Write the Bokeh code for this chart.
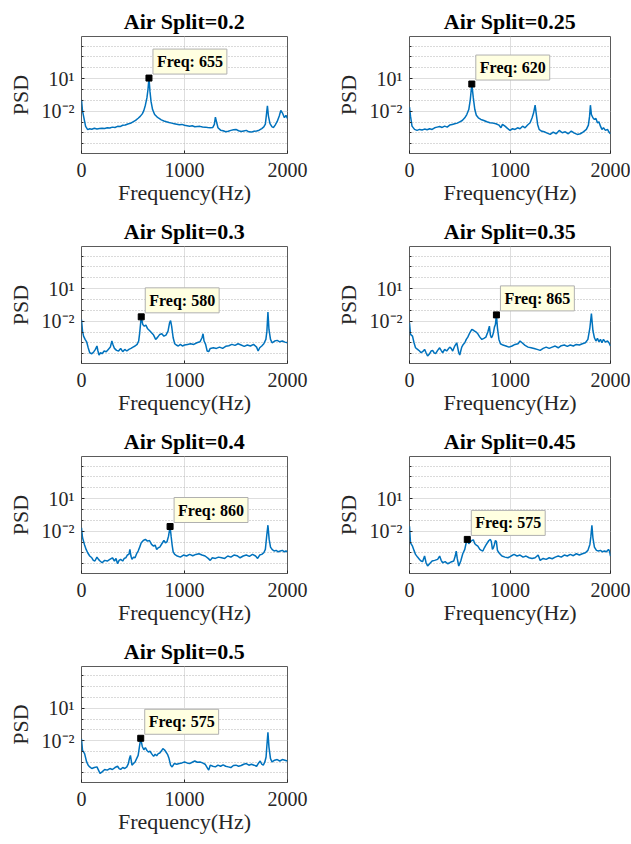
from bokeh.plotting import figure
from bokeh.layouts import gridplot
from bokeh.models import Range1d, FixedTicker, CustomJSTickFormatter, Label
from bokeh.embed import file_html
from bokeh.resources import INLINE

titles = ["Air Split=0.2", "Air Split=0.25", "Air Split=0.3", "Air Split=0.35",
          "Air Split=0.4", "Air Split=0.45", "Air Split=0.5"]
peak_freqs = [655, 620, 580, 865, 860, 575, 575]

x_ticks = [0, 1000, 2000]
y_major_ticks = [1e-2, 1e1]
y_minor_ticks = [1e-5, 1e-4, 1e-3, 1e-1, 1e0, 1e2, 1e3, 1e4]

# log10(PSD)
f_02 = [0, 10, 20, 40, 60, 80, 100, 125, 150, 175, 200, 225, 250, 275, 300, 325, 350, 375, 400, 425, 450, 475, 500,
        525, 550, 570, 590, 605, 620, 635, 645, 655, 665, 675, 690, 710, 730, 750, 775, 800, 825, 850, 875, 900, 925,
        950, 975, 1000, 1025, 1050, 1075, 1100, 1125, 1150, 1175, 1200, 1225, 1250, 1275, 1290, 1300, 1310, 1325,
        1350, 1375, 1400, 1425, 1450, 1475, 1500, 1525, 1550, 1575, 1600, 1625, 1650, 1675, 1700, 1725, 1750, 1770,
        1785, 1795, 1805, 1815, 1830, 1850, 1865, 1880, 1900, 1920, 1935, 1950, 1970, 1985, 2000]
lg_02 = [-0.96, -2.0, -2.46, -3.4, -3.7, -3.62, -3.66, -3.58, -3.64, -3.6, -3.57, -3.6, -3.53, -3.55, -3.47,
         -3.5, -3.4, -3.42, -3.3, -3.28, -3.18, -3.12, -2.98, -2.85, -2.65, -2.48, -2.25, -1.95, -1.45, -0.78, -0.05,
         1.05, -0.2, -1.1, -1.85, -2.3, -2.5, -2.65, -2.8, -2.9, -2.98, -3.05, -3.1, -3.15, -3.2, -3.25, -3.22,
         -3.3, -3.34, -3.38, -3.35, -3.44, -3.42, -3.4, -3.46, -3.47, -3.5, -3.52, -3.5, -3.22, -2.55, -2.95, -3.53,
         -3.75, -3.8, -3.9, -3.85, -3.77, -3.72, -3.68, -3.8, -3.88, -3.82, -3.77, -3.9, -3.93, -3.85, -3.83, -3.75,
         -3.6, -3.45, -3.2, -2.35, -1.5, -2.45, -3.15, -3.45, -3.5, -3.28, -2.95, -2.45, -1.94, -2.15, -2.6, -2.38, -2.67]

f_025 = [0, 10, 25, 50, 75, 100, 125, 150, 175, 200, 225, 250, 275, 300, 325, 350, 375, 400, 425, 450, 475, 500,
         525, 550, 570, 590, 605, 620, 635, 650, 665, 685, 710, 740, 770, 800, 830, 860, 890, 910, 925, 950, 975,
         1000, 1025, 1050, 1075, 1100, 1125, 1150, 1175, 1200, 1220, 1235, 1250, 1262, 1275, 1290, 1310, 1340, 1370,
         1400, 1430, 1460, 1490, 1520, 1550, 1580, 1610, 1640, 1670, 1700, 1730, 1760, 1780, 1792, 1800, 1810, 1825,
         1840, 1855, 1870, 1885, 1900, 1915, 1930, 1950, 1970, 1985, 2000]
lg_025 = [-1.63, -2.46, -3.38, -3.68, -3.77, -3.68, -3.74, -3.65, -3.71, -3.62, -3.68, -3.53, -3.47, -3.41, -3.5,
          -3.38, -3.47, -3.28, -3.22, -3.16, -3.1, -2.98, -2.86, -2.61, -2.31, -1.85, -0.93, 0.5, -0.78, -1.85,
          -2.37, -2.61, -2.76, -2.86, -2.98, -3.07, -3.1, -3.16, -3.28, -3.53, -3.22, -3.38, -3.59, -3.77, -3.62,
          -3.68, -3.53, -3.62, -3.38, -3.53, -3.28, -3.07, -2.61, -2.15, -1.45, -2.31, -3.22, -3.68, -3.83, -3.9,
          -4.02, -4.14, -3.93, -4.08, -3.77, -3.99, -3.9, -4.08, -3.83, -4.02, -4.14, -4.08, -3.9, -3.68, -3.28,
          -2.46, -1.45, -2.31, -2.61, -2.76, -2.67, -3.07, -2.98, -3.38, -3.68, -3.53, -3.77, -3.68, -3.93, -4.08]

f_03 = [0, 10, 20, 35, 50, 65, 80, 100, 120, 135, 150, 160, 170, 185, 200, 220, 240, 260, 280, 295, 305, 320, 340,
        360, 380, 400, 420, 440, 460, 480, 500, 520, 540, 555, 565, 580, 595, 610, 625, 640, 660, 680, 700, 720, 740,
        760, 780, 800, 820, 840, 855, 865, 875, 890, 905, 920, 940, 960, 980, 1000, 1030, 1060, 1090, 1120, 1150,
        1170, 1180, 1190, 1205, 1220, 1235, 1250, 1280, 1310, 1340, 1370, 1400, 1430, 1460, 1490, 1520, 1550, 1580,
        1610, 1640, 1670, 1700, 1715, 1730, 1750, 1770, 1790, 1800, 1810, 1820, 1835, 1850, 1875, 1900, 1925, 1950,
        1975, 2000]
lg_03 = [-1.85, -2.92, -3.38, -3.68, -3.9, -4.45, -4.91, -5.0, -4.81, -4.6, -4.29, -4.75, -5.12, -4.91, -5.0,
         -4.75, -4.81, -4.6, -4.39, -3.83, -4.14, -4.51, -4.69, -4.75, -4.51, -4.81, -4.6, -4.75, -4.6, -4.51,
         -4.39, -4.29, -4.14, -3.83, -3.07, -1.6, -2.31, -2.46, -2.37, -2.67, -2.86, -3.07, -3.28, -3.68, -3.47,
         -3.22, -3.16, -3.38, -3.28, -2.92, -2.15, -1.94, -2.46, -3.53, -4.08, -4.2, -4.29, -4.14, -4.29, -4.2,
         -4.14, -4.08, -4.14, -3.99, -3.9, -3.53, -3.16, -3.83, -4.14, -4.75, -4.81, -4.51, -4.45, -4.51, -4.39,
         -4.51, -4.32, -4.26, -4.14, -4.23, -4.08, -4.2, -4.32, -4.2, -4.29, -4.14, -4.39, -4.75, -4.45, -4.29,
         -4.08, -3.68, -2.92, -1.17, -2.76, -3.68, -3.99, -3.83, -3.77, -3.9, -3.83, -3.93, -3.99]

f_035 = [0, 10, 30, 45, 60, 80, 100, 115, 130, 150, 165, 180, 200, 215, 230, 245, 260, 280, 300, 315, 330, 350,
         370, 400, 415, 430, 450, 470, 480, 490, 500, 510, 520, 535, 550, 565, 580, 600, 620, 640, 660, 680, 700,
         720, 740, 760, 780, 795, 805, 815, 825, 835, 845, 855, 865, 875, 890, 905, 930, 960, 990, 1020, 1050, 1080,
         1100, 1120, 1150, 1180, 1210, 1240, 1270, 1300, 1330, 1360, 1390, 1420, 1450, 1480, 1510, 1540, 1570, 1600,
         1630, 1660, 1690, 1720, 1750, 1775, 1795, 1810, 1825, 1840, 1855, 1870, 1885, 1900, 1915, 1930, 1950, 1970,
         1985, 2000]
lg_035 = [-2.15, -3.22, -3.38, -3.99, -4.45, -4.6, -4.75, -4.91, -4.81, -4.6, -4.91, -5.21, -5.0, -4.75, -4.69,
          -4.91, -5.0, -4.69, -4.45, -4.69, -4.91, -4.6, -4.75, -4.39, -4.51, -4.75, -4.29, -3.99, -4.45, -4.91,
          -5.12, -4.75, -4.39, -4.14, -3.99, -3.68, -3.47, -3.07, -2.76, -2.86, -2.98, -3.16, -3.47, -3.68, -3.59,
          -3.47, -2.98, -2.46, -3.28, -3.53, -3.38, -3.07, -2.55, -2.31, -1.42, -2.61, -3.68, -4.08, -4.2, -4.29,
          -4.39, -4.29, -4.14, -4.08, -3.83, -3.99, -4.23, -4.39, -4.45, -4.51, -4.6, -4.69, -4.51, -4.39, -4.51,
          -4.39, -4.29, -4.45, -4.26, -4.2, -4.32, -4.2, -4.29, -4.14, -4.2, -4.08, -3.99, -3.68, -2.61, -1.3,
          -2.86, -3.53, -3.83, -3.59, -3.9, -3.68, -3.99, -3.68, -3.93, -3.83, -3.99, -4.29]

f_04 = [0, 10, 30, 45, 60, 80, 100, 115, 130, 150, 165, 180, 200, 225, 250, 275, 300, 320, 335, 350, 365, 380, 400,
        415, 430, 445, 460, 470, 480, 490, 505, 520, 535, 550, 565, 580, 600, 620, 640, 660, 680, 700, 715, 730, 745,
        760, 780, 800, 815, 830, 845, 860, 870, 880, 890, 905, 930, 960, 990, 1020, 1050, 1080, 1110, 1140, 1170,
        1200, 1230, 1250, 1270, 1300, 1330, 1360, 1390, 1420, 1450, 1480, 1510, 1540, 1570, 1600, 1630, 1660, 1690,
        1710, 1730, 1750, 1770, 1785, 1798, 1810, 1822, 1835, 1850, 1870, 1890, 1910, 1930, 1950, 1970, 1985, 2000]
lg_04 = [-1.69, -2.61, -3.28, -3.68, -3.99, -4.29, -4.45, -4.69, -4.75, -4.39, -4.6, -4.75, -4.91, -4.69, -4.75,
         -4.6, -4.45, -4.75, -4.51, -5.0, -4.69, -4.6, -4.75, -4.51, -4.45, -4.2, -4.14, -3.68, -4.29, -4.6, -4.39,
         -4.45, -4.08, -3.83, -3.47, -3.07, -2.86, -2.76, -2.92, -2.86, -3.22, -3.38, -3.28, -3.68, -3.53, -3.47,
         -3.16, -2.86, -3.07, -2.98, -2.46, -1.57, -2.46, -3.28, -3.9, -4.14, -4.29, -4.39, -4.2, -4.29, -4.14,
         -4.26, -4.14, -4.08, -4.2, -4.29, -4.51, -4.69, -4.45, -4.51, -4.39, -4.45, -4.51, -4.29, -4.39, -4.2,
         -4.26, -4.45, -4.29, -4.2, -4.32, -4.14, -4.29, -4.51, -4.2, -4.14, -3.99, -3.68, -2.46, -1.45, -2.76,
         -3.47, -3.68, -3.83, -3.77, -3.9, -3.83, -3.77, -3.9, -3.83, -3.9]

f_045 = [0, 10, 30, 45, 60, 80, 100, 115, 130, 150, 165, 180, 200, 225, 250, 280, 300, 315, 330, 355, 380, 400,
         420, 440, 455, 465, 475, 490, 510, 530, 550, 562, 575, 590, 605, 620, 635, 650, 665, 680, 700, 715, 730,
         745, 760, 775, 790, 805, 815, 825, 835, 845, 855, 865, 875, 890, 905, 920, 950, 980, 1010, 1040, 1070, 1100,
         1130, 1160, 1190, 1220, 1250, 1280, 1300, 1330, 1360, 1390, 1420, 1450, 1480, 1510, 1540, 1570, 1600, 1630,
         1660, 1690, 1720, 1750, 1775, 1795, 1805, 1815, 1825, 1840, 1860, 1880, 1900, 1920, 1940, 1960, 1980, 1990,
         2000]
lg_045 = [-1.54, -3.07, -3.38, -3.77, -4.14, -4.39, -4.6, -4.75, -4.81, -4.29, -4.91, -5.21, -5.0, -4.75, -4.69,
          -4.6, -4.29, -4.69, -4.91, -4.81, -5.0, -4.91, -4.81, -4.75, -4.29, -3.83, -4.51, -5.21, -4.75, -4.08,
          -3.68, -3.16, -2.76, -3.16, -2.98, -2.86, -2.8, -3.16, -3.28, -3.38, -3.68, -3.77, -3.83, -3.53, -3.28,
          -3.07, -2.86, -2.76, -2.98, -3.68, -3.53, -3.22, -2.86, -2.98, -3.77, -3.99, -4.14, -4.29, -4.39, -4.45,
          -4.29, -4.14, -4.29, -4.2, -4.39, -4.29, -4.45, -4.51, -4.45, -4.2, -4.69, -4.51, -4.6, -4.45, -4.54,
          -4.39, -4.29, -4.39, -4.2, -4.29, -4.14, -4.26, -4.08, -4.2, -4.08, -3.99, -3.77, -3.22, -2.46, -1.45,
          -2.61, -3.47, -3.77, -3.83, -3.77, -3.9, -3.83, -3.9, -3.68, -3.83, -4.29]

f_05 = [0, 10, 30, 50, 65, 80, 100, 125, 150, 165, 180, 200, 225, 250, 275, 300, 325, 350, 365, 380, 400, 420, 440,
        455, 465, 475, 490, 505, 520, 535, 550, 562, 575, 590, 605, 620, 635, 650, 665, 680, 700, 715, 730, 745, 760,
        775, 790, 805, 820, 835, 850, 865, 880, 900, 925, 950, 975, 1000, 1025, 1050, 1075, 1100, 1125, 1150, 1175,
        1200, 1220, 1235, 1250, 1275, 1300, 1325, 1350, 1375, 1400, 1425, 1450, 1475, 1500, 1525, 1550, 1575, 1600,
        1625, 1650, 1675, 1700, 1720, 1735, 1750, 1765, 1780, 1792, 1800, 1810, 1820, 1835, 1850, 1875, 1900, 1925,
        1950, 1975, 2000]
lg_05 = [-1.85, -2.92, -3.22, -3.99, -4.29, -4.45, -4.6, -4.51, -4.45, -4.75, -5.06, -4.91, -4.69, -4.75, -4.6,
         -4.69, -4.51, -4.39, -4.6, -4.69, -4.51, -4.6, -4.45, -4.14, -3.68, -3.38, -4.29, -4.14, -3.99, -3.68,
         -3.38, -2.61, -1.79, -2.55, -2.86, -2.67, -2.92, -3.07, -2.98, -3.22, -3.47, -3.28, -3.41, -3.22, -3.16,
         -2.98, -2.76, -2.86, -3.07, -3.28, -3.68, -4.29, -4.45, -4.14, -4.2, -4.14, -4.08, -3.99, -4.08, -4.14,
         -4.02, -3.9, -4.02, -3.99, -4.08, -4.2, -4.51, -4.75, -4.29, -4.39, -4.45, -4.29, -4.39, -4.26, -4.39,
         -4.45, -4.51, -4.32, -4.29, -4.39, -4.32, -4.2, -4.14, -4.29, -4.2, -4.29, -4.39, -4.08, -3.9, -4.2,
         -4.29, -3.99, -3.53, -2.46, -1.24, -2.61, -3.68, -3.99, -3.83, -3.77, -3.9, -3.77, -3.83, -3.9]

freq_lists = [f_02, f_025, f_03, f_035, f_04, f_045, f_05]
log_lists = [lg_02, lg_025, lg_03, lg_035, lg_04, lg_045, lg_05]

SERIF = "Liberation Serif"
TXT = "#262626"

fmt = CustomJSTickFormatter(code="""
const e = Math.round(Math.log10(tick));
const sup = {"-": "\\u207B", "0": "\\u2070", "1": "\\u00B9", "2": "\\u00B2", "3": "\\u00B3",
             "4": "\\u2074", "5": "\\u2075", "6": "\\u2076", "7": "\\u2077", "8": "\\u2078", "9": "\\u2079"};
return "10" + String(e).split("").map(c => sup[c]).join("");
""")


def make_panel(i, left_col, last_row):
    freqs = freq_lists[i]
    psd = [10 ** v for v in log_lists[i]]
    width = 332 if left_col else 298
    height = 214 if last_row else 210
    p = figure(width=width, height=height, output_backend="svg", toolbar_location=None,
               y_axis_type="log",
               x_range=Range1d(0, 2000), y_range=Range1d(10 ** -5.9, 10 ** 4.88),
               min_border_left=(81 if left_col else 73), min_border_right=(45 if left_col else 20),
               min_border_top=36, min_border_bottom=(62 if last_row else 57))
    p.title.text = titles[i]
    p.title.text_font = SERIF
    p.title.text_font_style = "bold"
    p.title.text_font_size = "22px"
    p.title.align = "center"
    p.title.text_color = "black"
    p.title.standoff = 6

    p.line(freqs, psd, line_color="#0072BD", line_width=1.5)

    pf = peak_freqs[i]
    pv = psd[freqs.index(pf)]
    p.scatter([pf], [pv], marker="square", size=6, color="black")
    p.add_layout(Label(x=pf, y=pv, x_offset=4, y_offset=4, text=f"Freq: {pf}",
                       text_font=SERIF, text_font_style="bold", text_font_size="16px",
                       text_color="black", text_baseline="bottom", text_align="left",
                       background_fill_color="#ffffe1", border_line_color="#b0b0b0",
                       border_line_width=1, padding=4))

    p.xaxis.ticker = FixedTicker(ticks=x_ticks)
    p.yaxis.ticker = FixedTicker(ticks=y_major_ticks, minor_ticks=y_minor_ticks)
    p.yaxis.formatter = fmt
    p.xaxis.axis_label = "Frequency(Hz)"
    p.yaxis.axis_label = "PSD"
    for ax in (p.xaxis, p.yaxis):
        ax.axis_label_text_font = SERIF
        ax.axis_label_text_font_style = "normal"
        ax.axis_label_text_font_size = "22px"
        ax.axis_label_text_color = TXT
        ax.major_label_text_font = SERIF
        ax.major_label_text_font_size = "20px"
        ax.major_label_text_color = TXT
        ax.axis_line_color = None
        ax.major_tick_line_color = TXT
        ax.major_tick_in = 3
        ax.major_tick_out = 0
        ax.minor_tick_line_color = TXT
        ax.minor_tick_in = 2
        ax.minor_tick_out = 0
    p.xaxis.major_label_standoff = 9
    p.xaxis.axis_label_standoff = 0
    p.yaxis.major_label_standoff = 7
    p.yaxis.axis_label_standoff = 6

    p.xgrid.grid_line_color = "#dedede"
    p.ygrid.grid_line_color = "#dedede"
    p.ygrid.minor_grid_line_color = "#b5b5b5"
    p.ygrid.minor_grid_line_dash = "1 2"
    p.outline_line_color = "#5a5a5a"
    p.outline_line_width = 1
    p.background_fill_color = "white"
    p.border_fill_color = "white"
    return p


panels = [make_panel(i, i % 2 == 0, i == 6) for i in range(7)]
grid = gridplot([[panels[0], panels[1]], [panels[2], panels[3]], [panels[4], panels[5]], [panels[6], None]],
                toolbar_location=None)

with open("out.html", "w", encoding="utf-8") as fh:
    fh.write(file_html(grid, INLINE))
